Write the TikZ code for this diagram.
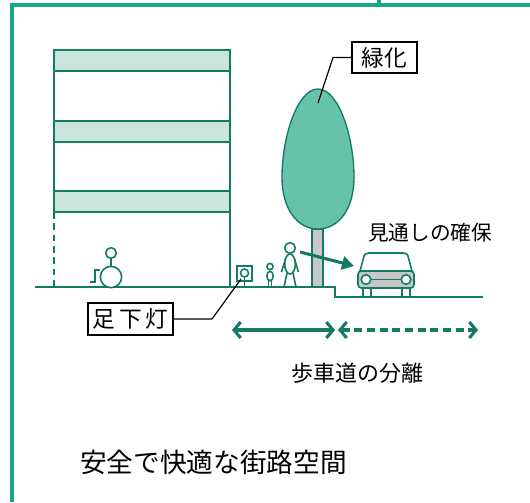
\documentclass[tikz,border=0pt]{standalone}
\usepackage{fontspec}
\setmainfont{Noto Sans CJK JP}
\usetikzlibrary{arrows.meta}

\definecolor{frameteal}{HTML}{17A689}
\definecolor{lineteal}{HTML}{137B64}
\definecolor{bandfill}{HTML}{C9E4DB}
\definecolor{leaffill}{HTML}{67C2AA}
\definecolor{trunkgray}{HTML}{C8C8C8}

\tikzset{
  outline/.style={draw=lineteal, line width=1.2pt},
  callout/.style={draw=black, line width=0.9pt, fill=white, inner sep=0pt},
  leader/.style={draw=black, line width=0.9pt},
  span/.style={draw=lineteal, line width=2.3pt,
    {Straight Barb[length=5pt,width=12pt,line width=2.3pt]}-{Straight Barb[length=5pt,width=12pt,line width=2.3pt]}},
}

\begin{document}
\begin{tikzpicture}[x=0.75pt, y=-0.75pt]
    \useasboundingbox (0,0) rectangle (530,502);

    % Outer frame, open at the bottom and the right
    \draw[frameteal, line width=2.3pt] (12,502) -- (12,5) -- (530,5);
    \draw[frameteal, line width=2.3pt] (379,5) -- (379,0);

    % Building with three light floor bands
    \draw[outline] (54,212) -- (54,50) -- (230,50) -- (230,287);
    \foreach \top/\bot in {50/71, 121/142, 191/212}
      \draw[outline, fill=bandfill] (54,\top) rectangle (230,\bot);
    \draw[outline, dash pattern=on 5pt off 3.5pt] (54,212) -- (54,287);

    % Ground line with the step down to the carriageway
    \draw[outline] (35,287) -- (335,287) -- (335,297) -- (483,297);

    % Wheelchair user
    \draw[outline, fill=white] (111,253) circle (4pt);
    \draw[outline] (111,258.5) -- (111,266);
    \draw[outline, fill=white] (111,277) circle (8pt);
    \draw[outline] (90,282) -- (95,282) -- (95,270) -- (100,270);

    % Foot lamp
    \draw[outline, fill=white] (237,266) rectangle (252,281);
    \draw[outline] (244.5,273) circle (3pt);
    \draw[outline] (244.5,277) -- (244.5,287);
    \coordinate (lamp) at (241,279);

    % Child and adult
    \draw[outline] (270,266.5) circle (2.3pt);
    \draw[outline] (270,276) ellipse (2.4pt and 3.6pt);
    \draw[outline] (268.5,280) -- (268.5,287) (271.5,280) -- (271.5,287);
    \draw[outline] (290,248) circle (4pt);
    \draw[outline] (290,264) ellipse (4pt and 7.5pt);
    \draw[outline] (285.5,259) -- (281.5,272) (294.5,259) -- (298.5,272);
    \draw[outline] (287,273) -- (284,287) (293,273) -- (296,287);

    % Street tree
    \draw[outline, fill=trunkgray] (312,229) rectangle (323,287);
    \draw[draw=lineteal, line width=1pt, fill=leaffill]
      (318,89) .. controls (297,89) and (282,138) .. (282,177)
      .. controls (282,210) and (298,229) .. (318,229)
      .. controls (338,229) and (354,210) .. (354,177)
      .. controls (354,138) and (339,89) .. (318,89);
    \coordinate (crown) at (318,103);

    % Car
    \draw[outline, fill=white] (360,271) -- (363.5,258) .. controls (364.5,254) .. (369,253)
      -- (403,253) .. controls (407.5,254) .. (408.5,258) -- (412,271);
    \draw[outline, fill=white] (363,288) rectangle (371,297);
    \draw[outline, fill=white] (402,288) rectangle (410,297);
    \draw[outline, fill=trunkgray, rounded corners=2.5pt] (358,271) rectangle (414,288);
    \draw[outline] (370,279.5) -- (402,279.5);
    \draw[outline, fill=white] (366,279.5) circle (3.6pt);
    \draw[outline, fill=white] (406,279.5) circle (3.6pt);

    % Line of sight from pedestrian to car
    \coordinate (eye) at (300,252);
    \coordinate (view) at (354,266);
    \draw[draw=lineteal, line width=2.3pt, -{Triangle[length=9pt,width=10pt]}] (eye) -- (view);

    % Callouts
    \node[callout, minimum width=48.75pt, minimum height=23.25pt, font=\fontsize{17}{17}\selectfont] (greening) at (384.5,57.5) {緑化};
    \draw[leader] (greening.west) -- (333,57.5) -- (crown);
    \node[callout, minimum width=63.75pt, minimum height=24pt, font=\fontsize{17}{17}\selectfont] (footlight) at (130.5,319) {足\,下\,灯};
    \draw[leader] (footlight.east) -- (212,319) -- (lamp);

    \node[font=\fontsize{15.5}{15.5}\selectfont] (sightline) at (430,233) {見通しの確保};

    % Sidewalk and carriageway spans
    \coordinate (walkL) at (232,330);
    \coordinate (walkR) at (335,330);
    \coordinate (roadL) at (338,330);
    \coordinate (roadR) at (478,330);
    \draw[span] (walkL) -- (walkR);
    \draw[span, dash pattern=on 6pt off 3.5pt] (roadL) -- (roadR);
    \node[font=\fontsize{16.5}{16.5}\selectfont] (separation) at (357,373) {歩車道の分離};

    \node[font=\fontsize{20}{20}\selectfont] (caption) at (213.5,462) {安全で快適な街路空間};
\end{tikzpicture}
\end{document}
